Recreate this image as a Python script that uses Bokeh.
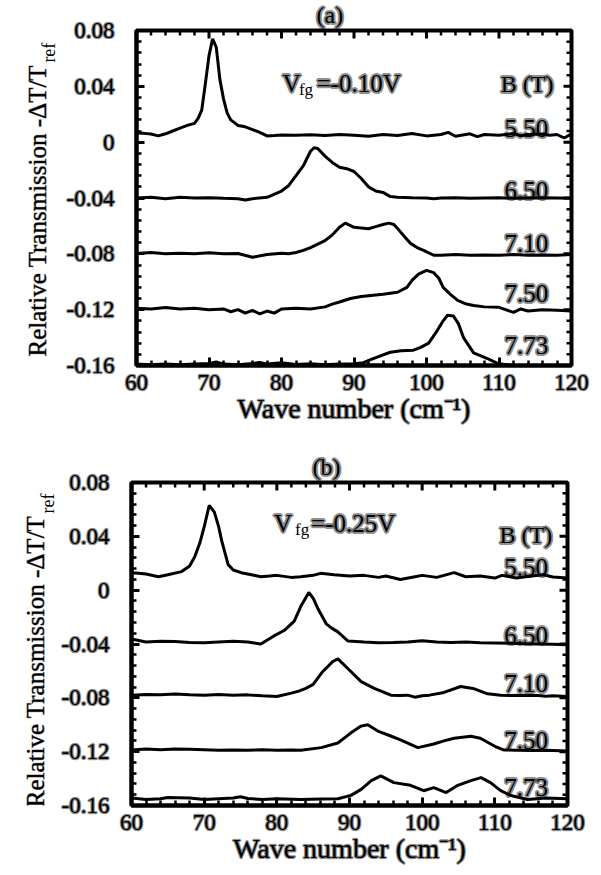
import math
from bokeh.plotting import figure
from bokeh.models import Range1d, FixedTicker, Label
from bokeh.layouts import column, row
from bokeh.embed import file_html
from bokeh.resources import INLINE

# ---------------- data ----------------
x_ticks = [60, 70, 80, 90, 100, 110, 120]
x_tick_labels = ["60", "70", "80", "90", "100", "110", "120"]
y_ticks = [-0.16, -0.12, -0.08, -0.04, 0.0, 0.04, 0.08]
y_tick_labels = ["-0.16", "-0.12", "-0.08", "-0.04", "0", "0.04", "0.08"]
fields = ["5.50", "6.50", "7.10", "7.50", "7.73"]
panel_titles = ["(a)", "(b)"]
gate_voltages = ["=-0.10V", "=-0.25V"]

# panel (a), Vfg = -0.10 V
a550_x = [60, 61, 62, 63, 64, 65, 66, 67, 68, 68.5, 69, 69.5, 70, 70.5, 71, 71.5, 72, 72.5, 73, 74,
          75, 76, 77, 78, 79, 80, 82, 84, 86, 88, 90, 92, 94, 96, 98, 100, 102, 103, 104, 106,
          107, 108, 110, 112, 113, 114, 116, 117, 118, 119, 120]
a550_y = [0.0065, 0.0063, 0.0058, 0.0045, 0.0060, 0.0080, 0.0100, 0.0120, 0.0135, 0.0170, 0.0230,
          0.0420, 0.0620, 0.0740, 0.0680, 0.0450, 0.0310, 0.0210, 0.0160, 0.0120,
          0.0110, 0.0090, 0.0070, 0.0045, 0.0048, 0.0052, 0.0050, 0.0053, 0.0047, 0.0055, 0.0050,
          0.0043, 0.0055, 0.0048, 0.0062, 0.0045, 0.0055, 0.0070, 0.0042, 0.0060,
          0.0040, 0.0055, 0.0050, 0.0062, 0.0045, 0.0055, 0.0058, 0.0050, 0.0055, 0.0030, 0.0060]

a650_x = [60, 62, 64, 66, 68, 70, 72, 74, 75, 76, 78, 80, 81, 82, 83, 84, 84.5, 85, 86, 87, 88, 89,
          90, 91, 92, 93, 94, 95, 96, 98, 100, 101, 102, 104, 106, 108, 110, 112, 114, 116, 118, 120]
a650_y = [-0.0400, -0.0395, -0.0405, -0.0395, -0.0400, -0.0398, -0.0402, -0.0405, -0.0415, -0.0405,
          -0.0395, -0.0350, -0.0310, -0.0240, -0.0170, -0.0065, -0.0040, -0.0045, -0.0100, -0.0145,
          -0.0180, -0.0190, -0.0210, -0.0260, -0.0320, -0.0350, -0.0360, -0.0390, -0.0395, -0.0398,
          -0.0400, -0.0405, -0.0400, -0.0398, -0.0402, -0.0400, -0.0398, -0.0402, -0.0400, -0.0398,
          -0.0400, -0.0402]

a710_x = [60, 62, 64, 66, 68, 70, 72, 74, 76, 78, 80, 81, 82, 83, 84, 85, 86, 87, 88, 88.8, 90, 91,
          92, 93, 94, 94.8, 95.5, 96.2, 97, 97.8, 98.7, 99.6, 101, 102, 104, 106, 108, 110, 112, 114,
          116, 118, 120]
a710_y = [-0.0797, -0.0790, -0.0800, -0.0795, -0.0800, -0.0792, -0.0800, -0.0798, -0.0825, -0.0805,
          -0.0795, -0.0800, -0.0790, -0.0775, -0.0755, -0.0730, -0.0705, -0.0665, -0.0610, -0.0580,
          -0.0610, -0.0615, -0.0620, -0.0605, -0.0590, -0.0580, -0.0590, -0.0630, -0.0680, -0.0725,
          -0.0755, -0.0775, -0.0810, -0.0810, -0.0805, -0.0810, -0.0808, -0.0810, -0.0805, -0.0810,
          -0.0808, -0.0810, -0.0805]

a750_x = [60, 62, 64, 66, 68, 70, 72, 73, 74, 75, 76, 77, 78, 79, 80, 82, 84, 86, 87, 88, 89.5, 91,
          92, 94, 96, 97.3, 98, 98.9, 100, 101, 101.7, 102.3, 103.3, 104.3, 105.5, 106.5, 108, 110,
          112, 113, 114, 116, 118, 120]
a750_y = [-0.1190, -0.1195, -0.1185, -0.1195, -0.1190, -0.1200, -0.1195, -0.1215, -0.1200, -0.1225,
          -0.1205, -0.1230, -0.1210, -0.1225, -0.1195, -0.1190, -0.1195, -0.1180, -0.1160, -0.1145,
          -0.1120, -0.1105, -0.1100, -0.1090, -0.1075, -0.1040, -0.0990, -0.0945, -0.0918, -0.0935,
          -0.0975, -0.1040, -0.1090, -0.1133, -0.1160, -0.1170, -0.1180, -0.1183, -0.1220, -0.1195,
          -0.1210, -0.1200, -0.1205, -0.1210]

a773_x = [60, 62, 64, 66, 68, 70, 71, 72, 74, 76, 77, 78, 80, 82, 84, 86, 88, 90, 91.3, 92.2, 93.2,
          95, 96.5, 98.2, 99.2, 100.3, 101.5, 102.3, 102.9, 103.7, 104.4, 105.1, 106.5, 108.4, 109.8,
          111, 112, 114, 116, 118, 120]
a773_y = [-0.1590, -0.1595, -0.1590, -0.1595, -0.1590, -0.1585, -0.1575, -0.1590, -0.1595, -0.1585,
          -0.1578, -0.1590, -0.1580, -0.1592, -0.1588, -0.1595, -0.1590, -0.1588, -0.1580, -0.1560,
          -0.1540, -0.1505, -0.1495, -0.1490, -0.1470, -0.1440, -0.1348, -0.1280, -0.1240, -0.1245,
          -0.1300, -0.1400, -0.1510, -0.1550, -0.1585, -0.1595, -0.1600, -0.1600, -0.1600, -0.1600,
          -0.1600]

# panel (b), Vfg = -0.25 V
b550_x = [60, 61, 62, 63.7, 65, 66.9, 68, 68.7, 69.4, 70, 70.7, 71.4, 72, 72.4, 73.3, 74, 75.1, 76.5,
          77.8, 79, 80, 82, 83.3, 85, 86, 87.9, 90, 92, 94, 95, 97, 99, 100, 102, 104.4, 106, 108, 110,
          111, 113, 115, 116.7, 118, 120]
b550_y = [0.0130, 0.0125, 0.0120, 0.0100, 0.0115, 0.0138, 0.0180, 0.0248, 0.0350, 0.0470, 0.0630,
          0.0580, 0.0470, 0.0370, 0.0190, 0.0150, 0.0130, 0.0115, 0.0100, 0.0105, 0.0110, 0.0095,
          0.0100, 0.0110, 0.0125, 0.0115, 0.0105, 0.0110, 0.0095, 0.0105, 0.0079, 0.0100, 0.0110,
          0.0095, 0.0130, 0.0100, 0.0105, 0.0090, 0.0110, 0.0090, 0.0105, 0.0115, 0.0098, 0.0090]

b650_x = [60, 62, 64, 66, 68, 70, 72, 74, 76, 77.8, 79.6, 81, 82.4, 83.3, 84.4, 85, 85.7, 86.8, 87.5,
          88.4, 89.8, 92, 94, 96, 98, 100, 102, 104, 106, 108, 110, 112, 114, 116, 118, 120]
b650_y = [-0.0363, -0.0385, -0.0380, -0.0382, -0.0388, -0.0390, -0.0385, -0.0380, -0.0385, -0.0400,
          -0.0340, -0.0300, -0.0230, -0.0120, -0.0017, -0.0060, -0.0142, -0.0250, -0.0280, -0.0310,
          -0.0378, -0.0385, -0.0390, -0.0388, -0.0385, -0.0375, -0.0385, -0.0388, -0.0385, -0.0390,
          -0.0392, -0.0395, -0.0398, -0.0400, -0.0402, -0.0405]

b710_x = [60, 62, 64, 66, 68, 70, 72, 74, 76, 78, 80, 82, 83, 84, 85, 86.3, 87.7, 88.4, 89.8, 91.6,
          93.4, 95.7, 97, 98, 99, 100, 101, 103, 105.3, 107, 109, 110.8, 112, 114, 116, 117, 118, 120]
b710_y = [-0.0780, -0.0775, -0.0778, -0.0772, -0.0778, -0.0780, -0.0776, -0.0780, -0.0778, -0.0785,
          -0.0790, -0.0765, -0.0750, -0.0730, -0.0700, -0.0606, -0.0530, -0.0510, -0.0584, -0.0680,
          -0.0730, -0.0780, -0.0782, -0.0780, -0.0795, -0.0785, -0.0780, -0.0760, -0.0716, -0.0730,
          -0.0770, -0.0780, -0.0782, -0.0780, -0.0782, -0.0788, -0.0785, -0.0790]

b750_x = [60, 62, 64, 66, 68, 70, 72, 74, 76, 78, 80, 82, 83.3, 86.1, 88.4, 90.2, 91.6, 92.5, 93.9,
          95.5, 97.1, 99.4, 101.6, 103, 104.4, 106.7, 108, 109, 110, 111.2, 113, 115, 117, 120]
b750_y = [-0.1187, -0.1180, -0.1185, -0.1180, -0.1182, -0.1185, -0.1190, -0.1188, -0.1190, -0.1186,
          -0.1190, -0.1188, -0.1190, -0.1170, -0.1136, -0.1060, -0.1010, -0.1000, -0.1047, -0.1080,
          -0.1114, -0.1170, -0.1143, -0.1120, -0.1100, -0.1085, -0.1100, -0.1130, -0.1160, -0.1187,
          -0.1190, -0.1192, -0.1190, -0.1195]

b773_x = [60, 62, 64, 65, 68, 70, 72, 74, 75, 76, 78, 80, 83.3, 86, 88.4, 90.2, 91.6, 93, 94.3, 96.1,
          98.4, 100.2, 101.6, 103.3, 104.9, 106.7, 108.1, 109.4, 110.8, 112.2, 114.5, 117, 120]
b773_y = [-0.1545, -0.1555, -0.1550, -0.1540, -0.1545, -0.1555, -0.1550, -0.1545, -0.1535, -0.1548,
          -0.1555, -0.1550, -0.1556, -0.1552, -0.1550, -0.1525, -0.1480, -0.1415, -0.1380, -0.1430,
          -0.1450, -0.1490, -0.1467, -0.1504, -0.1450, -0.1415, -0.1393, -0.1430, -0.1490, -0.1526,
          -0.1555, -0.1545, -0.1550]

curves_a = [(a550_x, a550_y), (a650_x, a650_y), (a710_x, a710_y), (a750_x, a750_y), (a773_x, a773_y)]
curves_b = [(b550_x, b550_y), (b650_x, b650_y), (b710_x, b710_y), (b750_x, b750_y), (b773_x, b773_y)]

# ---------------- styling ----------------
# only the regular serif face resolves in the renderer; a light text outline thickens it
FONT = "serif"
WEIGHT = "normal"
HALO = "rgba(0, 0, 0, 0.45)"

x_minor = [v for v in range(60, 121, 2) if v % 10]
y_minor = [round(-0.16 + 0.008 * i, 3) for i in range(31) if i % 5]


def outline(obj, attr):
    try:
        setattr(obj, attr, HALO)
    except Exception:
        pass


def style_axis(ax):
    ax.axis_line_width = 4
    ax.axis_line_color = "black"
    ax.major_tick_in = 8
    ax.major_tick_out = 0
    ax.major_tick_line_width = 3
    ax.minor_tick_in = 5
    ax.minor_tick_out = 0
    ax.minor_tick_line_width = 2.5
    ax.major_label_text_font = FONT
    ax.major_label_text_font_style = WEIGHT
    ax.major_label_text_color = "black"
    ax.major_label_text_font_size = "23px"
    outline(ax, "major_label_text_outline_color")


def txt(p, x, y, text, size, align="left", angle=0.0, halo=True):
    lab = Label(x=x, y=y, text=text, text_font=FONT, text_font_style=WEIGHT,
                text_font_size=size, text_color="black", text_align=align,
                text_baseline="alphabetic", angle=angle)
    if halo:
        outline(lab, "text_outline_color")
    p.add_layout(lab)


def make_main(curves, idx, width, height, borders, pos):
    left, right, top, bottom = borders
    p = figure(width=width, height=height, x_range=Range1d(60, 120), y_range=Range1d(-0.16, 0.08),
               output_backend="svg", toolbar_location=None,
               min_border_left=left, min_border_right=right, min_border_top=top,
               min_border_bottom=bottom)
    p.xgrid.visible = False
    p.ygrid.visible = False
    p.outline_line_width = 4
    p.outline_line_color = "black"

    p.title.text = panel_titles[idx]
    p.title.align = "left"
    p.title.vertical_align = "top"
    p.title.offset = pos["title_offset"]
    p.title.standoff = 2
    p.title.text_font = FONT
    p.title.text_font_style = WEIGHT
    p.title.text_font_size = "24px"
    p.title.text_color = "black"
    outline(p.title, "text_outline_color")

    p.xaxis.ticker = FixedTicker(ticks=x_ticks, minor_ticks=x_minor)
    p.yaxis.ticker = FixedTicker(ticks=y_ticks, minor_ticks=y_minor)
    p.xaxis.major_label_overrides = {t: l for t, l in zip(x_ticks, x_tick_labels)}
    p.yaxis.major_label_overrides = {t: l for t, l in zip(y_ticks, y_tick_labels)}
    style_axis(p.xaxis[0])
    style_axis(p.yaxis[0])
    p.xaxis.major_label_standoff = 9
    p.yaxis.major_label_standoff = 22
    p.xaxis.axis_label = "Wave number (cm\u207b\u00b9)"
    p.xaxis.axis_label_text_font = FONT
    p.xaxis.axis_label_text_font_style = WEIGHT
    p.xaxis.axis_label_text_font_size = "28px"
    p.xaxis.axis_label_text_color = "black"
    p.xaxis.axis_label_standoff = 0
    outline(p.xaxis[0], "axis_label_text_outline_color")

    # inward ticks on the top and right edges (half of each dash is clipped by the frame)
    p.scatter(x_ticks, [0.08] * len(x_ticks), marker="dash", size=16, angle=math.pi / 2,
              line_color="black", line_width=3)
    p.scatter(x_minor, [0.08] * len(x_minor), marker="dash", size=10, angle=math.pi / 2,
              line_color="black", line_width=2.5)
    p.scatter([120] * len(y_ticks), y_ticks, marker="dash", size=16,
              line_color="black", line_width=3)
    p.scatter([120] * len(y_minor), y_minor, marker="dash", size=10,
              line_color="black", line_width=2.5)

    for xs, ys in curves:
        p.line(xs, ys, line_width=3, line_color="black")

    vx, vy = pos["V"]
    txt(p, vx, vy, "V", "25px")
    fx, fy = pos["fg"]
    txt(p, fx, fy, "fg", "17px", halo=False)
    ex, ey = pos["eq"]
    txt(p, ex, ey, gate_voltages[idx], "25px")
    bx, by = pos["B"]
    txt(p, bx, by, "B (T)", "24px", align="right")
    for f, fyv in zip(fields, pos["fields_y"]):
        txt(p, pos["fields_x"], fyv, f, "25px", align="right")
    return p


def make_ylabel(width, height, pos):
    f = figure(width=width, height=height, x_range=Range1d(0, width), y_range=Range1d(height, 0),
               x_axis_type=None, y_axis_type=None, output_backend="svg", toolbar_location=None,
               min_border=0, outline_line_color=None)
    f.xgrid.visible = False
    f.ygrid.visible = False
    mx, my = pos["ylab"]
    txt(f, mx, my, "Relative Transmission -\u0394T/T", "25px", align="right", angle=math.pi / 2)
    rx, ry = pos["ref"]
    txt(f, rx, ry, "ref", "18px", align="left", angle=math.pi / 2, halo=False)
    return f


pos_a = dict(title_offset=180,
             V=(80.14, 0.042), fg=(82.4, 0.0378), eq=(84.83, 0.042),
             B=(117.5, 0.042), fields_x=116.8,
             fields_y=[0.0098, -0.0346, -0.0725, -0.1083, -0.1455],
             ylab=(37, 45), ref=(48, 42))
pos_b = dict(title_offset=181,
             V=(79.6, 0.0498), fg=(82.5, 0.0454), eq=(84.7, 0.0498),
             B=(117.9, 0.041), fields_x=117.3,
             fields_y=[0.0167, -0.034, -0.0694, -0.1114, -0.1467],
             ylab=(35, 44), ref=(47, 41))

LAB_W = 58
MAIN_W = 593 - LAB_W
main_a = make_main(curves_a, 0, MAIN_W, 438, (78, 22, 30, 73), pos_a)
main_b = make_main(curves_b, 1, MAIN_W, 428, (72, 26, 44, 58), pos_b)
ylab_a = make_ylabel(LAB_W, 438, pos_a)
ylab_b = make_ylabel(LAB_W, 428, pos_b)

layout = column(row(ylab_a, main_a, spacing=0), row(ylab_b, main_b, spacing=0), spacing=0)
open("out.html", "w").write(file_html(layout, INLINE))
